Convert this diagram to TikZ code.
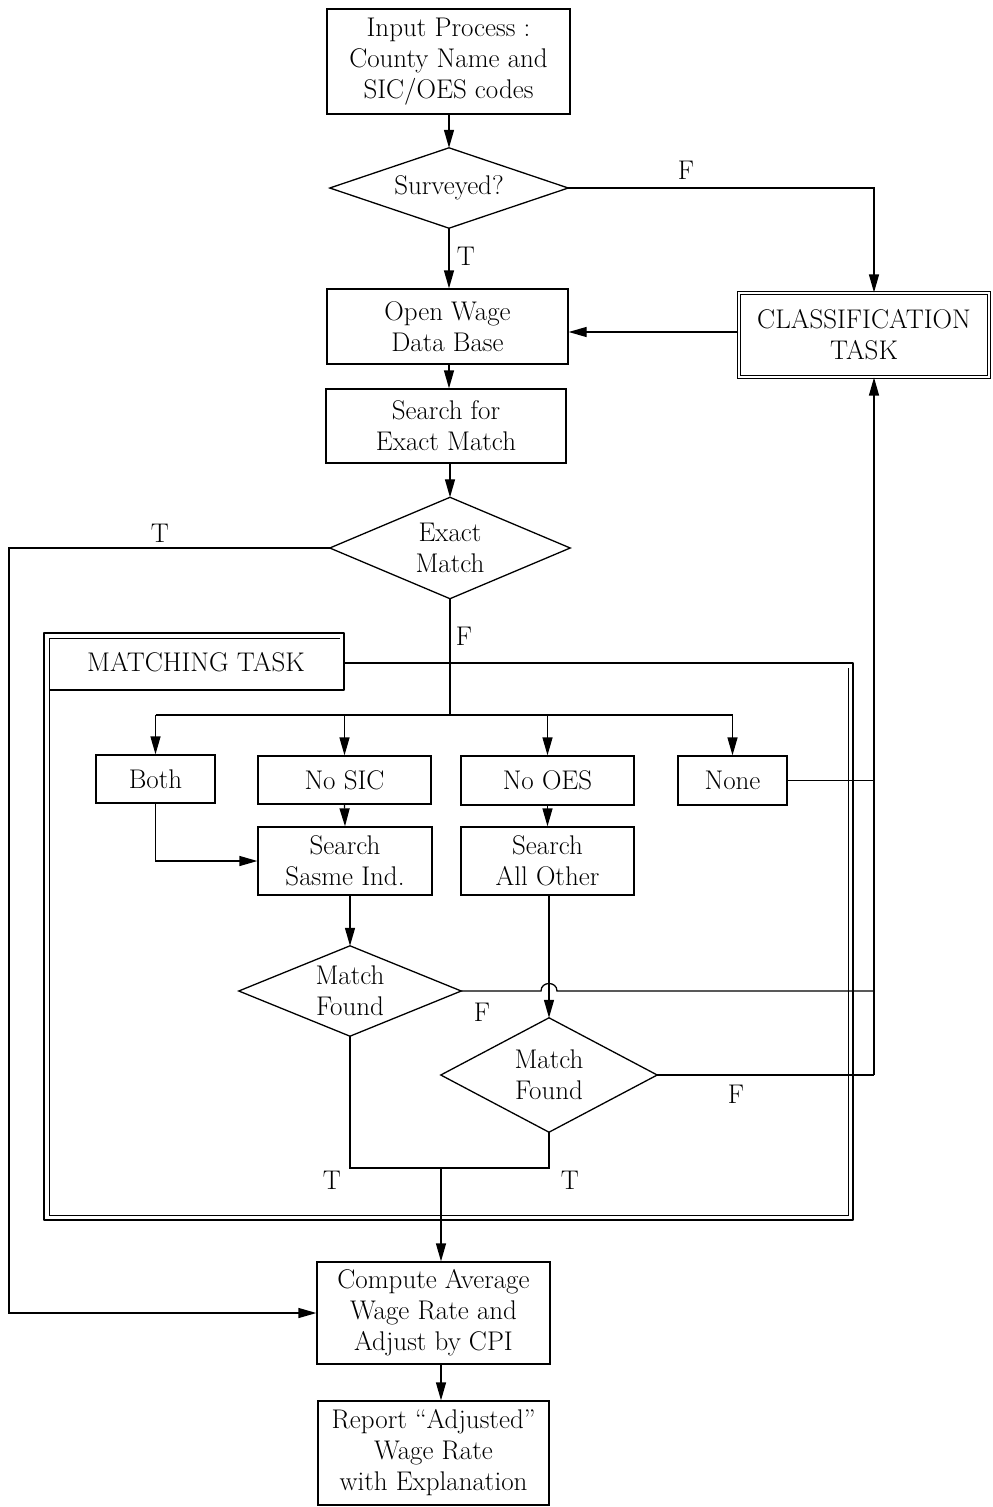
\documentclass[tikz,border=0pt]{standalone}
\usetikzlibrary{arrows.meta}
\begin{document}
\begin{tikzpicture}[x=1pt,y=-1pt,
  every node/.style={font=\fontsize{27}{31}\selectfont, inner sep=0pt, align=center},
  box/.style={draw, line width=1.3pt, rectangle},
  dia/.style={rectangle, draw=none},
  clsbox/.style={draw, double, double distance=2.6pt, line width=1.1pt, rectangle},
  conn/.style={line width=1.3pt},
  arr/.style={conn, -{Triangle[length=18pt,width=10pt]}}]
\useasboundingbox (0,0) rectangle (993,1507);

% nodes
\node[box, minimum width=243pt, minimum height=105pt] (in) at (448.5,61.5) {Input Process :\\County Name and\\SIC/OES codes};
\node[dia, minimum width=238pt, minimum height=80pt] (surv) at (449,188) {Surveyed?};
\node[box, minimum width=241pt, minimum height=75pt] (open) at (447.5,326.5) {Open Wage\\Data Base};
\node[box, minimum width=240pt, minimum height=74pt] (search) at (446,426) {Search for\\Exact Match};
\node[clsbox, minimum width=250pt, minimum height=84pt] (cls) at (864,335) {CLASSIFICATION\\TASK};
\node[dia, minimum width=240pt, minimum height=101pt] (em) at (450,548) {Exact\\Match};
\node (mt) at (196,662) {MATCHING TASK};
\node[box, minimum width=119pt, minimum height=48pt] (both) at (155.5,779) {Both};
\node[box, minimum width=173pt, minimum height=48pt] (nosic) at (344.5,780) {No SIC};
\node[box, minimum width=173pt, minimum height=49pt] (noes) at (547.5,780.5) {No OES};
\node[box, minimum width=109pt, minimum height=49pt] (none) at (732.5,780.5) {None};
\node[box, minimum width=174pt, minimum height=68pt] (ssame) at (345,861) {Search\\Sasme Ind.};
\node[box, minimum width=173pt, minimum height=68pt] (sall) at (547.5,861) {Search\\All Other};
\node[dia, minimum width=222pt, minimum height=90pt] (mf1) at (350,991) {Match\\Found};
\node[dia, minimum width=216pt, minimum height=114pt] (mf2) at (549,1075) {Match\\Found};
\node[box, minimum width=233pt, minimum height=102pt] (comp) at (433.5,1313) {Compute Average\\Wage Rate and\\Adjust by CPI};
\node[box, minimum width=231pt, minimum height=104pt] (rep) at (433.5,1453) {Report ``Adjusted''\\Wage Rate\\with Explanation};

% diamonds
\foreach \d in {surv,em,mf1,mf2}
  \draw[conn, line join=miter] (\d.north) -- (\d.east) -- (\d.south) -- (\d.west) -- cycle;

% labels
\node (lf1) at (686,170) {F};
\node (lt1) at (466,256) {T};
\node (lt2) at (160,533) {T};
\node (lf2) at (464,636) {F};
\node (lf3) at (482,1012) {F};
\node (lf4) at (736,1094) {F};
\node (lt3) at (332,1180) {T};
\node (lt4) at (570,1180) {T};

% coordinates
\coordinate (rx) at (874,0);
\coordinate (lx) at (9,0);
\coordinate (ycl) at (0,332);
\coordinate (br) at (450,715);
\coordinate (jy) at (0,1168);
\coordinate (cx) at (441,0);

% matching task frame
\draw[line width=2.2pt, line join=round] (344,663) -- (853,663) -- (853,1220) -- (44,1220) -- (44,633) -- (344,633) -- (344,690) -- (49,690);
\draw[line width=0.8pt] (49,638) -- (340,638);
\draw[line width=0.8pt] (49,638) -- (49,1215) -- (848,1215) -- (848,668);

% connectors
\draw[arr] (surv.north |- in.south) -- (surv.north);
\draw[arr] (surv.east) -| (rx |- cls.north);
\draw[arr] (surv.south) -- (open.north -| surv.south);
\draw[arr] (cls.west |- ycl) -- (open.east |- ycl);
\draw[arr] (open.south -| surv.south) -- (search.north -| surv.south);
\draw[arr] (search.south -| em.north) -- (em.north);
\draw[arr] (em.west) -- (em.west -| lx) -- (lx |- comp.west) -- (comp.west);
\draw[conn] (em.south) -- (br);
\draw[conn] (both.north |- br) -- (none.north |- br);
\foreach \n in {both,nosic,noes,none}
  \draw[arr] (\n.north |- br) -- (\n.north);
\draw[arr] (nosic.south) -- (ssame.north);
\draw[arr] (both.south) |- (ssame.west);
\draw[arr] (noes.south) -- (sall.north);
\draw[conn] (none.east) -- (none.east -| rx);
\draw[arr] (mf1.north |- ssame.south) -- (mf1.north);
\draw[arr] (mf2.north |- sall.south) -- (mf2.north);
\coordinate (hop) at (mf2.north |- mf1.east);
\draw[conn] (mf1.east) -- ([xshift=-8pt]hop) .. controls ([xshift=-8pt,yshift=10pt]hop) and ([xshift=8pt,yshift=10pt]hop) .. ([xshift=8pt]hop) -- (hop -| rx);
\draw[conn] (mf2.east) -- (mf2.east -| rx);
\draw[arr] (mf2.east -| rx) -- (rx |- cls.south);
\draw[conn] (mf1.south) -- (mf1.south |- jy) -- (mf2.south |- jy) -- (mf2.south);
\draw[arr] (cx |- jy) -- (cx |- comp.north);
\draw[arr] (cx |- comp.south) -- (cx |- rep.north);
\end{tikzpicture}
\end{document}
